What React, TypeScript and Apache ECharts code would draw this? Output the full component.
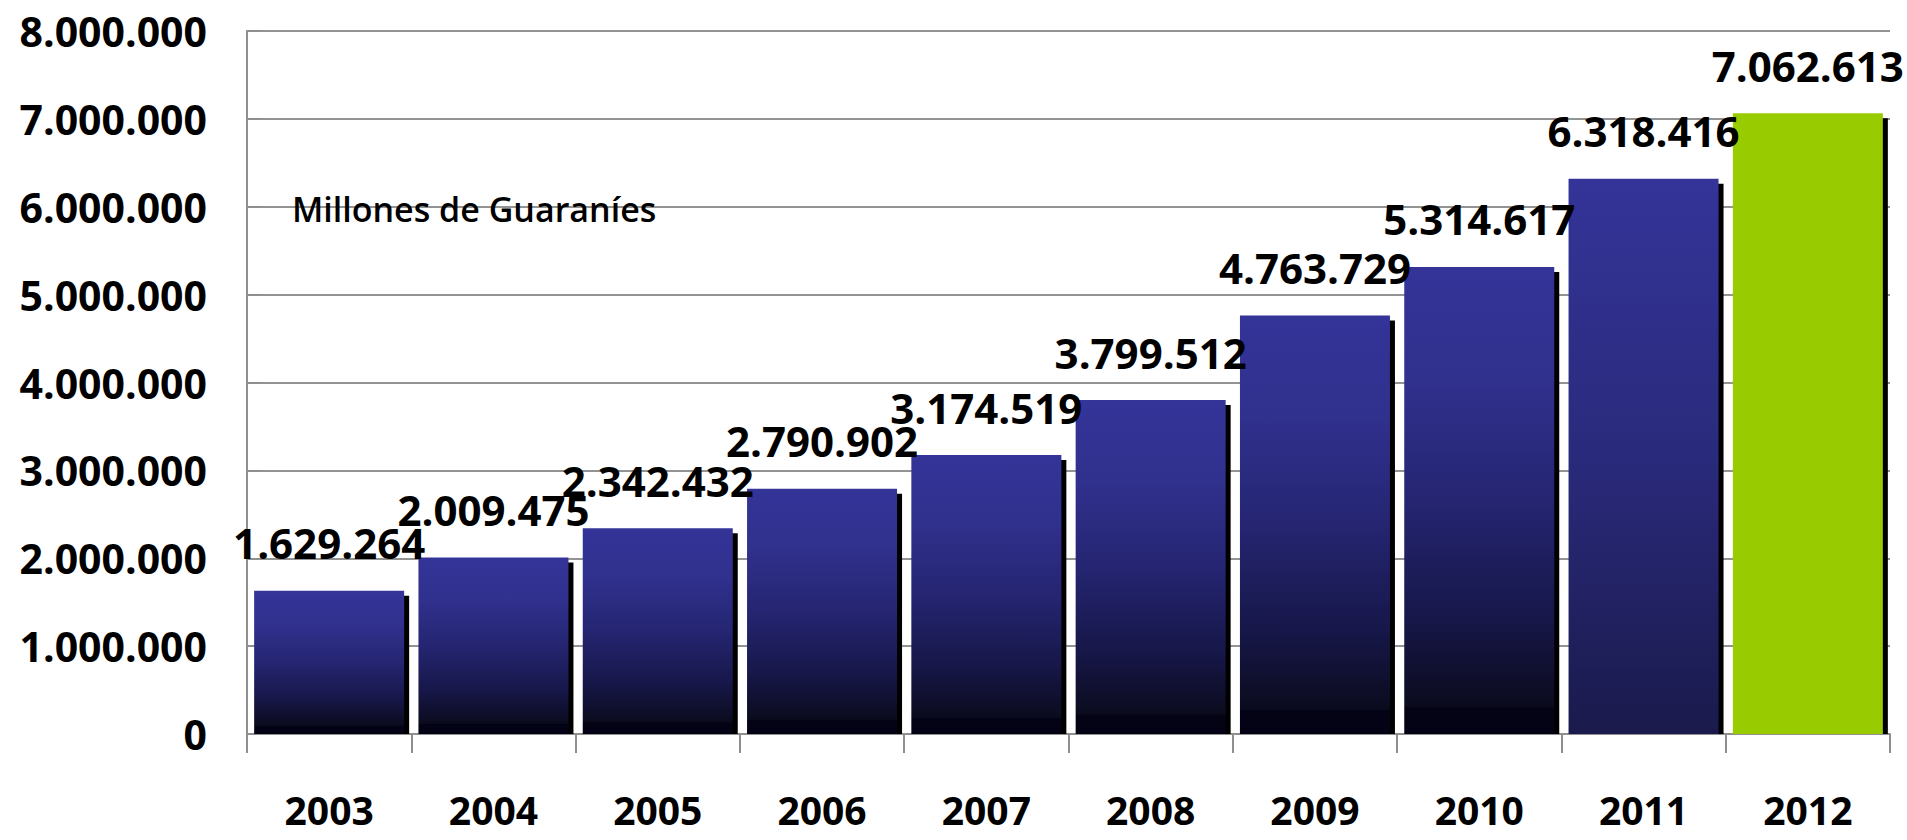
import React, { useEffect, useRef } from "react";
import * as echarts from "echarts";

const categories = ["2003", "2004", "2005", "2006", "2007", "2008", "2009", "2010", "2011", "2012"];
const values = [1629264, 2009475, 2342432, 2790902, 3174519, 3799512, 4763729, 5314617, 6318416, 7062613];
const yMin = 0;
const yMax = 8000000;
const yStep = 1000000;
const subtitle = "Millones de Guaraníes";

const fmt = (v: number) => String(Math.round(v)).replace(/\B(?=(\d{3})+(?!\d))/g, ".");

const FONT = "'Open Sans', 'Liberation Sans', sans-serif";

const darkGradient = new echarts.graphic.LinearGradient(0, 0, 0, 1, [
  { offset: 0, color: "#343499" },
  { offset: 0.25, color: "#30308d" },
  { offset: 0.5, color: "#252572" },
  { offset: 0.75, color: "#17174a" },
  { offset: 0.94, color: "#0b0b1e" },
  { offset: 0.945, color: "#030315" },
  { offset: 1, color: "#030315" },
]);
const lightGradient = new echarts.graphic.LinearGradient(0, 0, 0, 1, [
  { offset: 0, color: "#343499" },
  { offset: 0.5, color: "#2a2a7c" },
  { offset: 1, color: "#1a1a4c" },
]);

export default function App() {
  const ref = useRef<HTMLDivElement>(null);
  useEffect(() => {
    document.body.style.margin = "0";
    document.body.style.overflow = "hidden";
    const chart = echarts.init(ref.current!, undefined, { renderer: "svg" });
    const barData = values.map((v, i) => ({
      value: v,
      itemStyle: {
        color: i === values.length - 1 ? "#99cc00" : i === values.length - 2 ? lightGradient : darkGradient,
      },
    }));
    chart.setOption({
      animation: false,
      backgroundColor: "#ffffff",
      grid: { left: 247, right: 17, top: 31, bottom: 106, containLabel: false },
      xAxis: {
        type: "category",
        data: categories,
        boundaryGap: true,
        axisLine: { lineStyle: { color: "#8f8f8f", width: 2 } },
        axisTick: { show: true, length: 19, lineStyle: { color: "#8f8f8f", width: 2 } },
        axisLabel: {
          margin: 56,
          fontFamily: FONT,
          fontWeight: "bold",
          fontSize: 39,
          lineHeight: 39,
          color: "#000",
        },
      },
      yAxis: {
        type: "value",
        min: yMin,
        max: yMax,
        interval: yStep,
        axisLine: { show: true, lineStyle: { color: "#8f8f8f", width: 2 } },
        axisTick: { show: true, inside: true, length: 15, lineStyle: { color: "#8f8f8f", width: 2 } },
        splitLine: { show: true, lineStyle: { color: "#939393", width: 2 } },
        axisLabel: {
          margin: 40,
          fontFamily: FONT,
          fontWeight: "bold",
          fontSize: 41,
          color: "#000",
          formatter: (v: number) => fmt(v),
        },
      },
      graphic: [
        {
          type: "text",
          left: 292,
          top: 192,
          z: 10,
          style: { text: subtitle, fontFamily: FONT, fontSize: 34, fontWeight: 600, fill: "#000" },
        },
      ],
      series: [
        {
          type: "custom",
          z: 1,
          data: values.map((v, i) => [i, v]),
          renderItem: (params: any, api: any) => {
            const top = api.coord([api.value(0), api.value(1)]);
            const base = api.coord([api.value(0), 0]);
            const bw = api.size([1, 0])[0] * 0.913;
            return {
              type: "rect",
              shape: { x: top[0] - bw / 2 + 5, y: top[1] + 5, width: bw, height: base[1] - top[1] - 5 },
              style: { fill: "#000" },
            };
          },
        },
        {
          type: "bar",
          z: 2,
          barWidth: "91.3%",
          data: barData,
          label: {
            show: true,
            position: "top",
            distance: 27,
            fontFamily: FONT,
            fontWeight: "bold",
            fontSize: 42,
            color: "#000",
            formatter: (p: any) => fmt(p.value),
          },
        },
      ],
    });
    return () => chart.dispose();
  }, []);
  return <div ref={ref} style={{ width: 1907, height: 840 }} />;
}
